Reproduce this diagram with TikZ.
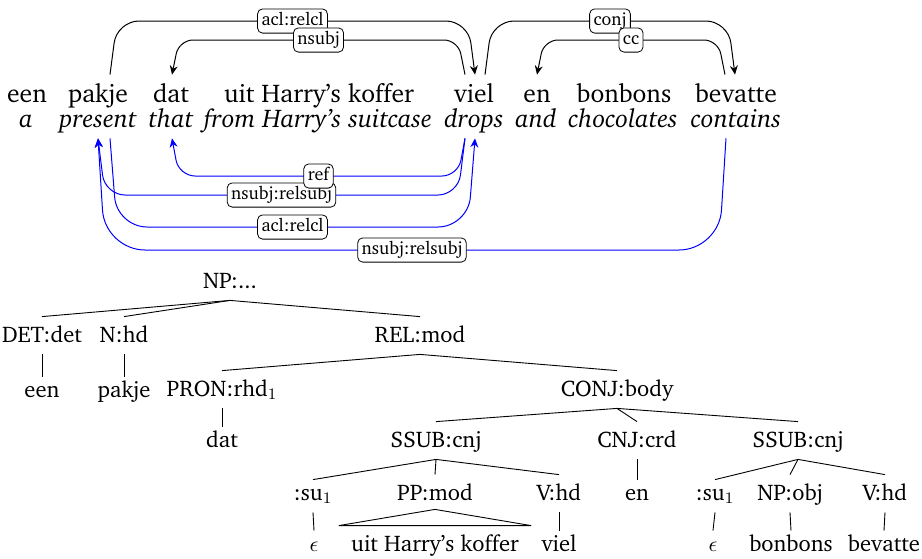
\documentclass[tikz,border=0pt]{standalone}
\usepackage[T1]{fontenc}
\usepackage{charter}
\usetikzlibrary{calc,arrows.meta}
\tikzset{
  word/.style={font=\fontsize{12.8}{15}\selectfont, anchor=base, text height=8.5pt, text depth=2.5pt, inner xsep=0pt, inner ysep=5pt},
  gloss/.style={font=\fontsize{12.8}{15}\selectfont\itshape, anchor=base, text height=8.5pt, text depth=2.5pt, inner xsep=0pt, inner ysep=3pt},
  tnode/.style={font=\fontsize{11.3}{13}\selectfont, anchor=base, text height=7.5pt, text depth=1pt, inner xsep=5pt, inner ysep=5pt},
  tleaf/.style={tnode, text height=5pt},
  lab/.style={draw=black, fill=white, rounded corners=2.5pt, font=\fontsize{9}{10}\selectfont, text=black, text height=6.5pt, text depth=2pt, inner xsep=2pt, inner ysep=1.8pt, line width=0.4pt},
  dep/.style={line width=0.5pt, -{Stealth[length=4.5pt,width=4pt,inset=1.5pt]}},
  bdep/.style={dep, draw=blue},
  tedge/.style={line width=0.45pt}
}
\begin{document}
\begin{tikzpicture}[x=0.5pt,y=-0.5pt]
\useasboundingbox (0,0) rectangle (922,558);
% ---------- words ----------
\node[word] (een) at (27,102) {een};
\node[word] (pakje) at (98,102) {pakje};
\node[word] (dat) at (171,102) {dat};
\node[word] (uhk) at (319,102) {uit Harry's koffer};
\node[word] (viel) at (474,102) {viel};
\node[word] (en) at (537,102) {en};
\node[word] (bonbons) at (624,102) {bonbons};
\node[word] (bevatte) at (736,102) {bevatte};
\node[gloss] (a) at (26,127) {a};
\node[gloss] (present) at (98,127) {present};
\node[gloss] (that) at (171,127) {that};
\node[gloss] (from) at (318,127) {from Harry's suitcase};
\node[gloss] (drops) at (474,127) {drops};
\node[gloss] (and) at (536,127) {and};
\node[gloss] (choc) at (623,127) {chocolates};
\node[gloss] (contains) at (736,127) {contains};
% ---------- attach points ----------
\coordinate (pakjeO) at ($(pakje.north)+(12,0)$);
\coordinate (datI) at ($(dat.north)+(1,0)$);
\coordinate (vielL) at ($(viel.north)+(-9,0)$);
\coordinate (vielI) at ($(viel.north)+(1,0)$);
\coordinate (vielR) at ($(viel.north)+(11,0)$);
\coordinate (enI) at (en.north);
\coordinate (bevI) at ($(bevatte.north)+(-1,0)$);
\coordinate (bevL) at ($(bevatte.north)+(-11,0)$);
\coordinate (presI) at (present.south);
\coordinate (presO) at ($(present.south)+(12,0)$);
\coordinate (thatI) at ($(that.south)+(1,0)$);
\coordinate (dropsL) at ($(drops.south)+(-9,0)$);
\coordinate (dropsI) at ($(drops.south)+(1,0)$);
\coordinate (contL) at ($(contains.south)+(-10,0)$);
\coordinate (hA) at (0,21);
\coordinate (hB) at (0,40);
\coordinate (hC) at (0,176);
\coordinate (hD) at (0,195);
\coordinate (hE) at (0,227);
\coordinate (hF) at (0,250);
% ---------- black edges ----------
\draw[dep, rounded corners=11] (pakjeO) -- ($(pakjeO|-hA)+(7,0)$) -- node[lab]{acl:relcl} ($(vielI|-hA)+(-7,0)$) -- (vielI);
\draw[dep, rounded corners=11] (vielR) -- ($(vielR|-hA)+(7,0)$) -- node[lab]{conj} ($(bevI|-hA)+(-7,0)$) -- (bevI);
\draw[dep, rounded corners=7] (vielL) -- ($(vielL|-hB)+(-7,0)$) -- node[lab]{nsubj} ($(datI|-hB)+(7,0)$) -- (datI);
\draw[dep, rounded corners=7] (bevL) -- ($(bevL|-hB)+(-7,0)$) -- node[lab]{cc} ($(enI|-hB)+(7,0)$) -- (enI);
% ---------- blue edges ----------
\draw[bdep, rounded corners=20] (contL) -- ($(contL|-hF)+(-7,0)$) -- node[lab]{nsubj:relsubj} ($(presI|-hF)+(7,0)$) -- (presI);
\draw[bdep, rounded corners=15] (presO) -- ($(presO|-hE)+(7,0)$) -- node[lab]{acl:relcl} ($(dropsI|-hE)+(-7,0)$) -- (dropsI);
\draw[bdep, rounded corners=10] (dropsL) -- ($(dropsL|-hD)+(-7,0)$) -- node[lab]{nsubj:relsubj} ($(presI|-hD)+(7,0)$) -- (presI);
\draw[bdep, rounded corners=8] (dropsL) -- ($(dropsL|-hC)+(-7,0)$) -- node[lab]{ref} ($(thatI|-hC)+(7,0)$) -- (thatI);
% ---------- tree ----------
\node[tnode] (NP) at (230,288) {NP:...};
\node[tnode] (DET) at (42,342) {DET:det};
\node[tnode] (N) at (124,342) {N:hd};
\node[tnode] (REL) at (420,342) {REL:mod};
\node[tleaf] (een2) at (42,397) {een};
\node[tleaf] (pakje2) at (124,397) {pakje};
\node[tnode] (PRON) at (222,396) {PRON:rhd$_1$};
\node[tnode] (CONJ) at (617,396) {CONJ:body};
\node[tleaf] (dat2) at (222,447) {dat};
\node[tnode] (SSUBa) at (436,447) {SSUB:cnj};
\node[tnode] (CNJ) at (637,447) {CNJ:crd};
\node[tnode] (SSUBb) at (798,447) {SSUB:cnj};
\node[tleaf] (sua) at (313,500) {:su$_1$};
\node[tnode] (PP) at (435,500) {PP:mod};
\node[tnode] (Va) at (559,500) {V:hd};
\node[tleaf] (en2) at (637,500) {en};
\node[tleaf] (sub) at (715,500) {:su$_1$};
\node[tnode] (NPobj) at (790,500) {NP:obj};
\node[tnode] (Vb) at (885,500) {V:hd};
\node[tleaf] (epsa) at (314,551) {$\epsilon$};
\node[tleaf] (uhk2) at (435,551) {uit Harry's koffer};
\node[tleaf] (viel2) at (559,551) {viel};
\node[tleaf] (epsb) at (713,551) {$\epsilon$};
\node[tleaf] (bonbons2) at (791,551) {bonbons};
\node[tleaf] (bevatte2) at (884,551) {bevatte};
\draw[tedge] (DET.north) -- (NP.south) -- (REL.north);
\draw[tedge] (NP.south) -- (N.north);
\draw[tedge] (DET.south) -- (een2.north);
\draw[tedge] (N.south) -- (pakje2.north);
\draw[tedge] (PRON.north) -- (REL.south) -- (CONJ.north);
\draw[tedge] (PRON.south) -- (dat2.north);
\draw[tedge] (SSUBa.north) -- (CONJ.south) -- (SSUBb.north);
\draw[tedge] (CONJ.south) -- (CNJ.north);
\draw[tedge] (CNJ.south) -- (en2.north);
\draw[tedge] (sua.north) -- (SSUBa.south) -- (Va.north);
\draw[tedge] (SSUBa.south) -- (PP.north);
\draw[tedge] (sub.north) -- (SSUBb.south) -- (Vb.north);
\draw[tedge] (SSUBb.south) -- (NPobj.north);
\draw[tedge] (sua.south) -- (epsa.north);
\draw[tedge] (Va.south) -- (viel2.north);
\draw[tedge] (sub.south) -- (epsb.north);
\draw[tedge] (NPobj.south) -- (bonbons2.north);
\draw[tedge] (Vb.south) -- (bevatte2.north);
\draw[tedge] ([yshift=1.5pt]PP.south) -- ([xshift=-1pt,yshift=2.5pt]uhk2.north west) -- ([xshift=1pt,yshift=2.5pt]uhk2.north east) -- cycle;
\end{tikzpicture}
\end{document}
